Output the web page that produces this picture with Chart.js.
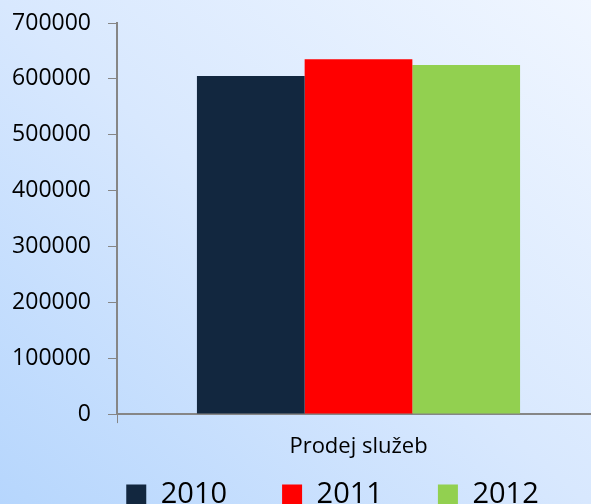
<!DOCTYPE html>
<html>
<head>
<meta charset="utf-8">
<script src="https://cdn.jsdelivr.net/npm/chart.js@4/dist/chart.umd.min.js"></script>
<style>
    html, body { margin: 0; padding: 0; }
    #wrap {
        width: 591px;
        height: 504px;
        overflow: hidden;
        background: linear-gradient(to top right, #b6d6fd 0%, #d8e8fe 50%, #f0f6ff 100%);
    }
</style>
</head>
<body>
<!-- platno je o kousek sirsi, osa x v referenci pokracuje za pravy okraj -->
<div id="wrap"><canvas id="myChart" width="600" height="504"></canvas></div>
<script>
var kategorie = ['Prodej služeb']
var roky = ['2010', '2011', '2012']
var hodnoty2010 = [605000]
var hodnoty2011 = [635000]
var hodnoty2012 = [625000]
var barvy = ['#12273f', '#ff0000', '#92d050']

// legenda: mensi vyska a posun (v referenci neni vycentrovana a je oriznuta dole)
const upravaLegendy = {
    id: 'upravaLegendy',
    beforeLayout(chart) {
        const l = chart.legend
        if (l && !l._upraveno) {
            const puvodniFit = l.fit.bind(l)
            l.fit = function () {
                puvodniFit()
                this.height = 34.5
            }
            l._upraveno = true
        }
    },
    afterLayout(chart) {
        const l = chart.legend
        l.left += 26.5
        l.right += 26.5
        l.top -= 44.5
        l.bottom = l.top + 100
    }
}

const ctx = document.getElementById('myChart').getContext('2d');
const myChart = new Chart(ctx, {
    type: 'bar',
    data: {
        labels: kategorie,
        datasets: [
            { label: roky[0], data: hodnoty2010, backgroundColor: barvy[0] },
            { label: roky[1], data: hodnoty2011, backgroundColor: barvy[1] },
            { label: roky[2], data: hodnoty2012, backgroundColor: barvy[2] }
        ]
    },
    options: {
        responsive: false,
        animation: false,
        layout: { padding: { top: 0, left: 12, right: 0 } },
        datasets: {
            bar: { categoryPercentage: 0.669, barPercentage: 1.0 }
        },
        plugins: {
            tooltip: { enabled: false },
            legend: {
                position: 'bottom',
                labels: {
                    boxWidth: 20,
                    boxHeight: 20,
                    padding: 55,
                    color: '#000',
                    font: { family: 'Open Sans', size: 29 }
                }
            }
        },
        scales: {
            x: {
                grid: {
                    offset: true,
                    drawOnChartArea: false,
                    tickLength: 9,
                    color: '#868686'
                },
                border: { color: '#868686', width: 2 },
                ticks: {
                    color: '#000',
                    padding: 10,
                    font: { family: 'Open Sans', size: 22 }
                }
            },
            y: {
                min: 0,
                max: 700000,
                afterFit: function (scale) {
                    scale.width = 105
                    scale.paddingTop = 23
                },
                grid: {
                    drawOnChartArea: false,
                    tickLength: 9,
                    color: '#868686'
                },
                border: { color: '#868686', width: 2 },
                ticks: {
                    stepSize: 100000,
                    color: '#000',
                    padding: 17,
                    font: { family: 'Open Sans', size: 23 },
                    callback: function (v) { return String(v) }
                }
            }
        }
    },
    plugins: [upravaLegendy]
});
</script>
</body>
</html>
